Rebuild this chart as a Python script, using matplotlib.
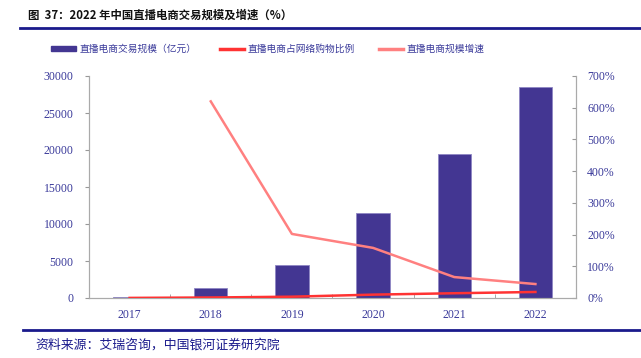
import numpy as np
import matplotlib.pyplot as plt
from matplotlib.lines import Line2D
from matplotlib.patches import Patch

# ---- data ----
years = ['2017', '2018', '2019', '2020', '2021', '2022']
gmv = [196, 1400, 4440, 11500, 19500, 28500]          # 直播电商交易规模（亿元）
share = [0.3, 1.6, 4.1, 10.6, 15.0, 19.0]             # 直播电商占网络购物比例 (%)
growth = [np.nan, 620, 202, 158, 66, 44]              # 直播电商规模增速 (%)

BAR = '#433692'
RED = '#ff3333'
PINK = '#ff8080'
TXT = '#3a3a9a'
NAVY = '#1a1a8c'
SERIF = ['Liberation Serif', 'Noto Sans CJK SC']
CJK = ['Noto Sans CJK SC', 'DejaVu Sans']

fig = plt.figure(figsize=(6.41, 3.58), dpi=100)
ax = fig.add_axes([89 / 641, 1 - 298 / 358, 487 / 641, 222 / 358])
ax2 = ax.twinx()

x = np.arange(len(years))
ax.bar(x, gmv, width=0.41, color=BAR, edgecolor='#8f86c4', linewidth=0.6, zorder=2)
ax2.plot(x, share, color=RED, lw=1.8, zorder=3)
ax2.plot(x, growth, color=PINK, lw=1.8, zorder=3)

ax.set_xlim(-0.5, 5.5)
ax.set_ylim(0, 30000)
ax.set_yticks(np.arange(0, 30001, 5000))
ax2.set_ylim(0, 700)
ax2.set_yticks(np.arange(0, 701, 100))
ax2.set_yticklabels([f'{v}%' for v in range(0, 701, 100)])

ax.set_xticks(x)
ax.set_xticklabels(years)
ax.set_xticks(np.arange(0.5, 5.5, 1), minor=True)
ax.tick_params(axis='x', which='major', length=0, pad=8)
ax.tick_params(axis='x', which='minor', length=3, direction='in', color='#999999')
ax.tick_params(axis='y', length=3, direction='out', color='#999999', pad=8)
ax2.tick_params(axis='y', length=3, direction='in', color='#999999', pad=8)

for a in (ax, ax2):
    for lab in a.get_xticklabels() + a.get_yticklabels():
        lab.set_fontfamily(SERIF)
        lab.set_fontsize(8.5)
        lab.set_color(TXT)
    a.spines['top'].set_visible(False)
    for s in ('left', 'right', 'bottom'):
        a.spines[s].set_color('#aaaaaa')
        a.spines[s].set_linewidth(0.8)

handles = [Patch(color=BAR), Line2D([], [], color=RED, lw=2.5), Line2D([], [], color=PINK, lw=2.5)]
labels = ['直播电商交易规模（亿元）', '直播电商占网络购物比例', '直播电商规模增速']
fig.legend(handles, labels, loc='center', bbox_to_anchor=(268 / 641, 1 - 49 / 358), ncol=3,
           frameon=False, prop={'family': CJK, 'size': 7}, handlelength=2.5,
           handleheight=0.45, handletextpad=0.4, columnspacing=2.4, labelcolor=TXT)

# title and rules
fig.text(28 / 641, 1 - 15 / 358, '图  37：2022 年中国直播电商交易规模及增速（%）',
         fontsize=8.2, fontweight='bold', family=CJK, color='#111111', va='center')
fig.add_artist(Line2D([20 / 641, 1], [1 - 28 / 358] * 2, color=NAVY, lw=2))
fig.add_artist(Line2D([23 / 641, 1], [1 - 330 / 358] * 2, color=NAVY, lw=2))
fig.text(35 / 641, 1 - 345 / 358, '资料来源：艾瑞咨询，中国银河证券研究院',
         fontsize=9.3, style='italic', family=CJK, color=NAVY, va='center')

fig.savefig('out.png', dpi=100)
